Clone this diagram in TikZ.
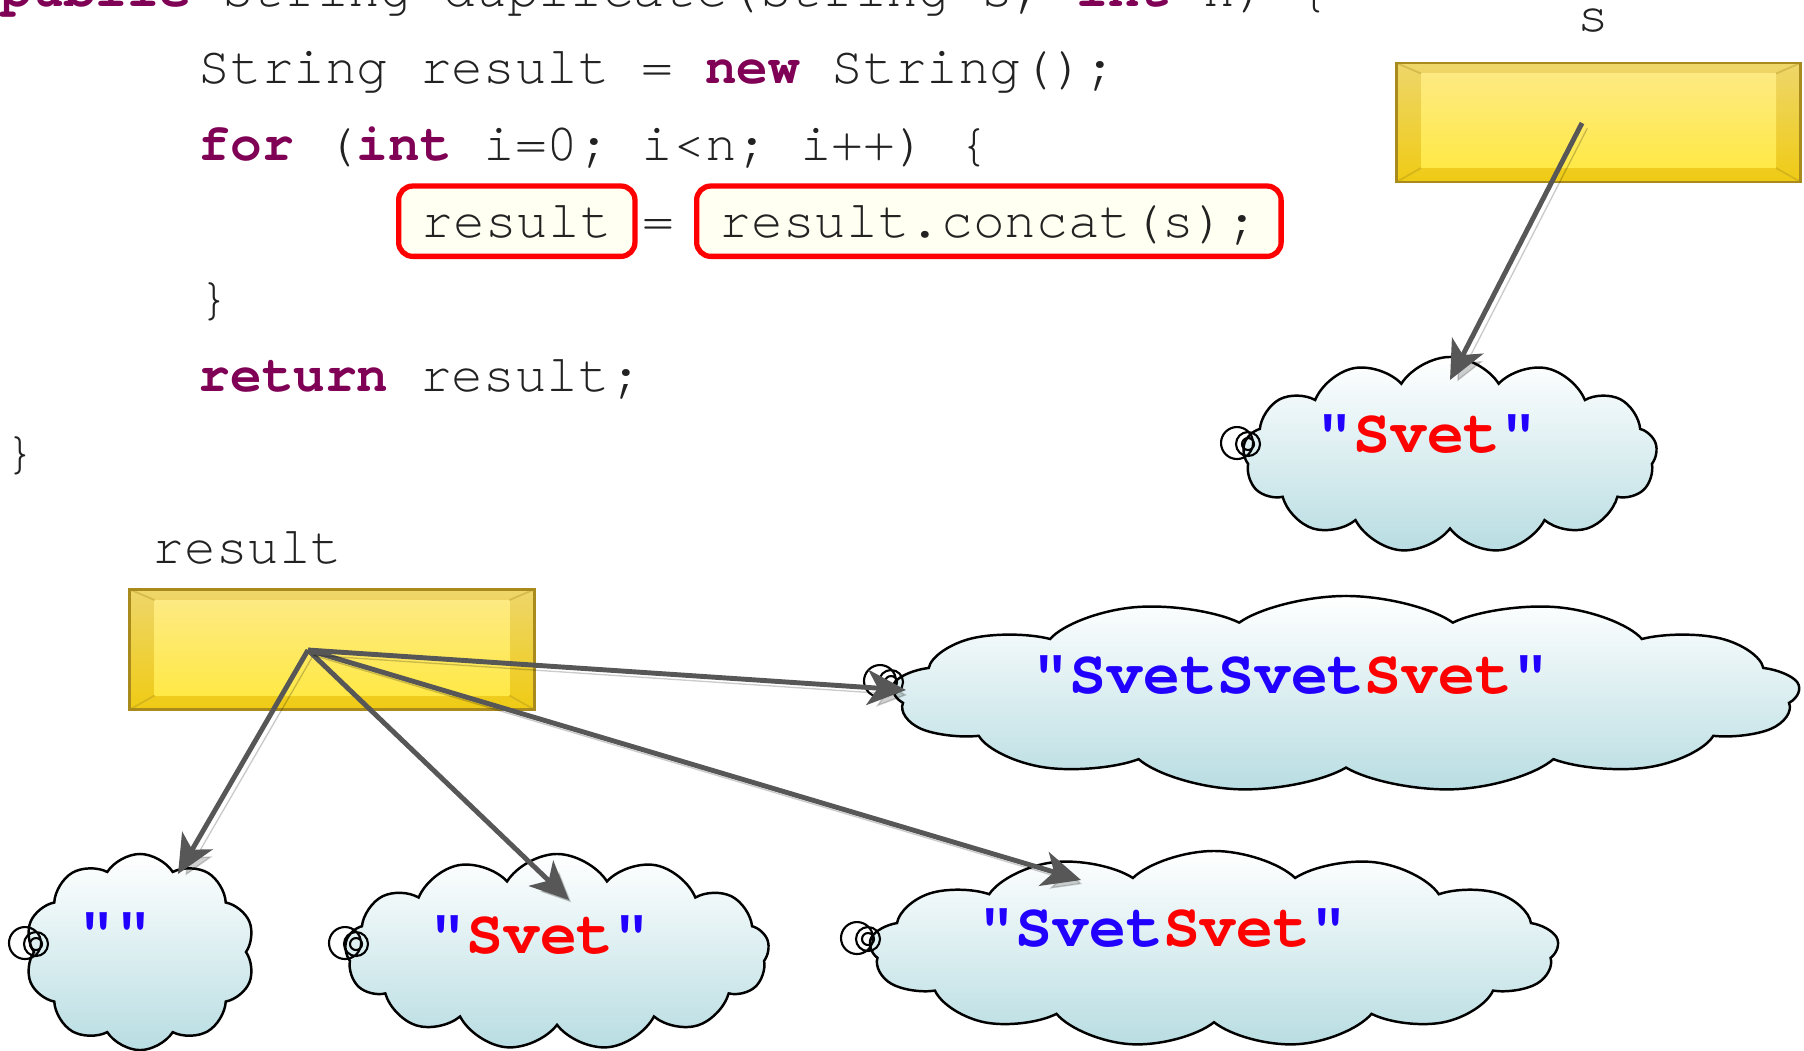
\documentclass[tikz,border=0pt]{standalone}
\usepackage{fontspec}
\usetikzlibrary{arrows.meta,positioning,shapes.symbols}
\newfontfamily\codefont{TeX Gyre Cursor}
\definecolor{kwcol}{HTML}{7F0055}
\definecolor{codecol}{HTML}{222222}
\definecolor{boxfill}{HTML}{FFFFF2}
\definecolor{ybord}{HTML}{A88B1C}
\definecolor{yout1}{HTML}{EED66A}
\definecolor{yout2}{HTML}{EFCB14}
\definecolor{yin1}{HTML}{FDEA88}
\definecolor{yin2}{HTML}{FFE93E}
\definecolor{yin3}{HTML}{FFF27F}
\definecolor{cloudbot}{HTML}{B8DDE2}
\definecolor{qblue}{HTML}{2200FF}
\definecolor{qred}{HTML}{FF0000}
\definecolor{ptrcol}{HTML}{575757}
\newcommand\kw[1]{{\bfseries\color{kwcol}#1}}
\newcommand\strtail[2]{\draw[tail] (#1,#2) circle[radius=16] (#1+11,#2+1) circle[radius=12] (#1+11,#2+1) circle[radius=6];}

\begin{document}
\begin{tikzpicture}
		[x=0.01cm,y=-0.01cm,
		code/.style={anchor=base west,inner sep=0pt,text=codecol,font=\codefont\fontsize{15pt}{18pt}\selectfont},
		codebox/.style={code,draw=qred,line width=1.5pt,fill=boxfill,rounded corners=4pt,inner xsep=6.6pt,inner ysep=3.5pt,text height=11pt,text depth=2pt},
		varbox/.style={draw=ybord,line width=.8pt,top color=yout1,bottom color=yout2,minimum width=4.04cm,minimum height=1.2cm,
			path picture={\shade[top color=yin1,middle color=yin3,bottom color=yin2] ([xshift=7pt,yshift=-3pt]path picture bounding box.north west) rectangle ([xshift=-7pt,yshift=4pt]path picture bounding box.south east);
				\draw[ybord,opacity=.35,line width=.5pt] (path picture bounding box.north west) -- ++(7pt,-3pt) (path picture bounding box.north east) -- ++(-7pt,-3pt) (path picture bounding box.south west) -- ++(7pt,4pt) (path picture bounding box.south east) -- ++(-7pt,4pt);}},
		strcloud/.style={cloud,cloud puffs=13,cloud puff arc=115,cloud ignores aspect,draw,line width=.7pt,top color=white,bottom color=cloudbot,transform shape},
		strtext/.style={anchor=base,inner sep=0pt,text=qblue,font=\codefont\bfseries\fontsize{17.5pt}{20pt}\selectfont},
		ptr/.style={draw=ptrcol,fill=ptrcol,line width=1.4pt,-{Stealth[length=11pt,width=10pt,inset=3pt]},
			preaction={draw=black,fill=black,opacity=.18,transform canvas={shift={(1.5pt,-1.5pt)}}}},
		tail/.style={draw,line width=.6pt}]
		\useasboundingbox (0,0) rectangle (1804,1050);
		
		\node [code] (l0) at (0,6) {\kw{public} String duplicate(String s, \kw{int} n) \{};
		\node [code] (l1) at (198,83) {String result = \kw{new} String();};
		\node [code] (l2) at (198,160) {\kw{for} (\kw{int} i=0; i<n; i++) \{};
		\node [codebox] (lhs) at (396,237) {result};
		\node [code,anchor=base] (eq) at (658,237) {=};
		\node [codebox] (rhs) at (694,237) {result.concat(s);};
		\node [code] (l4) at (198,314) {\}};
		\node [code] (l5) at (198,391) {\kw{return} result;};
		\node [code] (l6) at (4,468) {\}};
		
		\node [code] (reslbl) at (152,563) {result};
		\node [code,anchor=base] (slbl) at (1593,31) {s};
		
		\node [strcloud,minimum width=4.14cm,minimum height=1.96cm] (cS) at (1450,455) {};
		\node [strcloud,cloud puffs=10,minimum width=2.30cm,minimum height=1.96cm] (c0) at (140,952) {};
		\node [strcloud,minimum width=4.24cm,minimum height=1.96cm] (c1) at (557,952) {};
		\begin{scope}[shift={(1214,949)},xscale=1.65]
		\node [strcloud,minimum width=4.18cm,minimum height=1.96cm] (c2) at (0,0) {};
		\end{scope}
		\begin{scope}[shift={(1346,694)},xscale=2.2]
		\node [strcloud,minimum width=4.13cm,minimum height=1.96cm] (c3) at (0,0) {};
		\end{scope}
		
		\node [strtext] (tS) at (1427,452) {"\textcolor{qred}{Svet}"};
		\node [strtext] (t0) at (115,950) {""};
		\node [strtext] (t1) at (540,953) {"\textcolor{qred}{Svet}"};
		\node [strtext] (t2) at (1163,946) {"Svet\textcolor{qred}{Svet}"};
		\node [strtext] (t3) at (1291,693) {"SvetSvet\textcolor{qred}{Svet}"};
		
		\strtail{1237}{443}
		\strtail{25}{943}
		\strtail{345}{943}
		\strtail{857}{938}
		\strtail{880}{681}
		
		\node [varbox] (resvar) at (332,649.5) {};
		\node [varbox,minimum height=1.19cm] (svar) at (1598.5,122.5) {};
		
		\coordinate (rp) at (308,650);
		\coordinate (sp) at (1582,123);
		\coordinate (e0) at (178,874);
		\coordinate (e1) at (569,900);
		\coordinate (e2) at (1081,880);
		\coordinate (e3) at (906,690);
		\coordinate (eS) at (1450,380);
		
		\path
		(rp) edge [ptr] (e0)
		(rp) edge [ptr] (e1)
		(rp) edge [ptr] (e2)
		(rp) edge [ptr] (e3)
		(sp) edge [ptr] (eS)
		;
		
\end{tikzpicture}
\end{document}
